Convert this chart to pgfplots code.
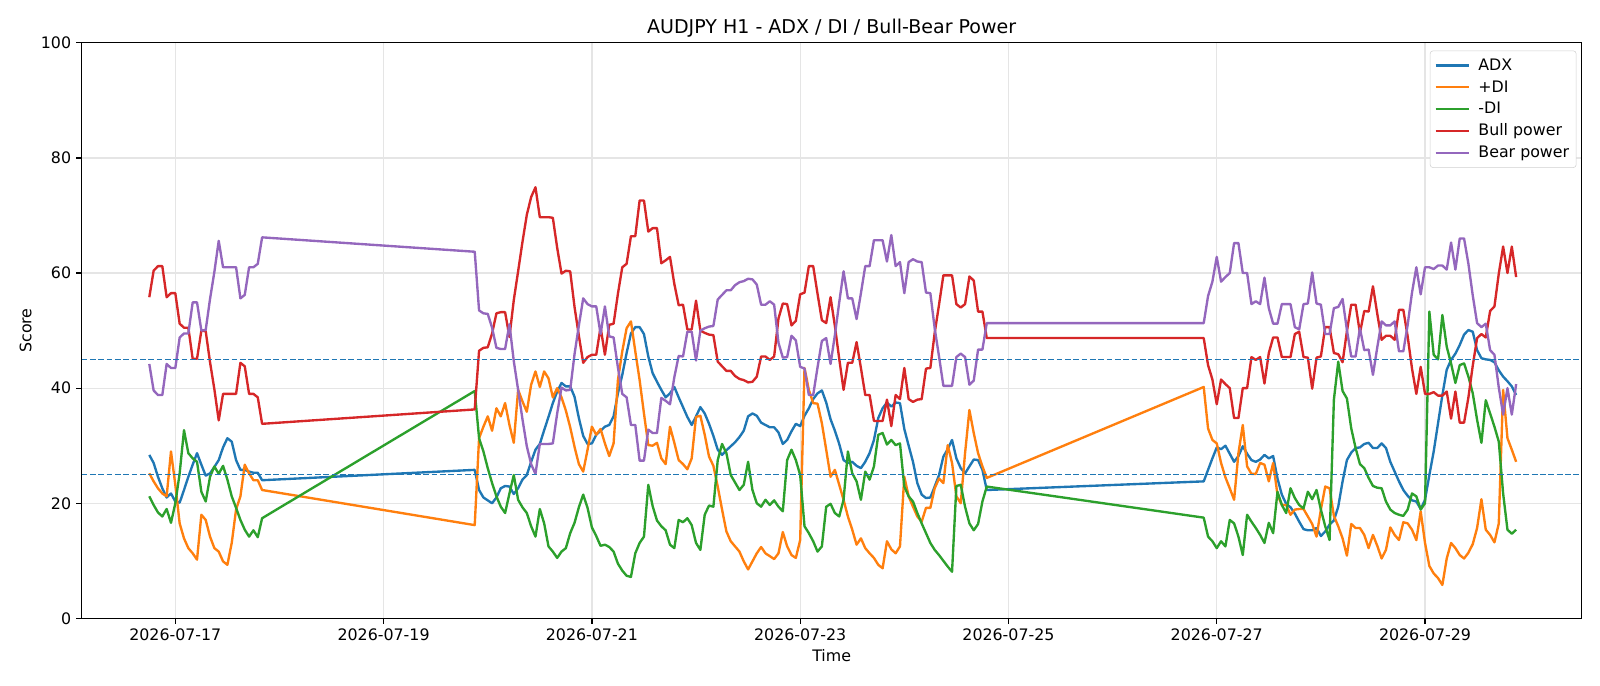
\documentclass[border=0pt]{standalone}
\usepackage{fontspec}
\setmainfont{DejaVu Sans}
\usepackage{pgfplots}
\usepackage{pgfplotstable}
\pgfplotsset{compat=1.18}
\definecolor{c0}{HTML}{1F77B4}
\definecolor{c1}{HTML}{FF7F0E}
\definecolor{c2}{HTML}{2CA02C}
\definecolor{c3}{HTML}{D62728}
\definecolor{c4}{HTML}{9467BD}
\pgfplotstableread{
h adx pdi mdi bull bear
-6 28.4 25.2 21.2 55.8 44.2
-5 27.0 23.8 19.7 60.4 39.6
-4 24.6 22.6 18.4 61.2 38.8
-3 22.6 21.7 17.7 61.2 38.8
-2 21.0 21.2 19.0 55.8 44.2
-1 21.7 29.0 16.6 56.5 43.5
0 20.3 23.2 20.0 56.5 43.5
1 20.1 16.5 25.2 51.2 48.8
2 22.3 13.9 32.7 50.5 49.5
3 24.6 12.2 28.7 50.5 49.5
4 26.7 11.3 27.8 45.1 54.9
5 28.7 10.2 27.2 45.1 54.9
6 26.7 18.0 22.0 50.0 50.0
7 24.8 17.1 20.3 49.9 50.1
8 25.2 14.2 24.6 44.5 55.5
9 26.3 12.2 26.4 39.8 60.2
10 27.5 11.6 25.1 34.4 65.6
11 29.7 9.9 26.5 39.0 61.0
12 31.3 9.3 24.1 39.0 61.0
13 30.7 13.1 21.2 39.0 61.0
14 27.5 18.9 19.2 39.0 61.0
15 25.8 21.2 17.1 44.4 55.6
16 25.8 26.7 15.4 43.8 56.2
17 25.5 25.2 14.2 39.0 61.0
18 25.3 24.0 15.3 39.0 61.0
19 25.3 24.0 14.1 38.4 61.6
20 24.0 22.3 17.4 33.8 66.2
69 25.8 16.2 39.5 36.3 63.7
70 22.3 31.3 31.3 46.5 53.5
71 21.0 33.3 29.0 47.0 53.0
72 20.5 35.1 26.1 47.1 52.9
73 20.0 32.6 23.5 49.5 50.5
74 21.0 36.5 21.2 53.0 47.0
75 22.6 35.1 19.4 53.2 46.8
76 23.0 37.4 18.3 53.2 46.8
77 22.9 33.6 21.7 48.9 51.1
78 21.6 30.5 24.9 55.3 44.7
79 22.6 39.7 20.6 60.3 39.7
80 24.1 37.7 19.3 65.4 34.6
81 24.9 35.9 18.3 70.1 29.9
82 27.2 40.6 16.0 73.2 26.8
83 29.3 42.9 14.2 74.9 25.1
84 30.3 40.2 19.0 69.7 30.3
85 32.7 42.9 16.5 69.7 30.3
86 35.0 41.7 12.5 69.7 30.3
87 37.4 38.4 11.6 69.6 30.4
88 39.4 40.0 10.5 64.4 35.6
89 40.9 38.4 11.6 59.9 40.1
90 40.3 36.1 12.2 60.4 39.6
91 40.3 33.2 14.8 60.3 39.7
92 38.5 29.8 16.6 54.1 45.9
93 34.8 26.8 19.3 49.1 50.9
94 31.7 25.5 21.5 44.4 55.6
95 30.3 29.3 19.2 45.4 54.6
96 30.4 33.3 15.8 45.8 54.2
97 31.9 31.9 14.3 45.8 54.2
98 32.6 32.9 12.6 50.6 49.4
99 33.3 30.4 12.8 45.8 54.2
100 33.6 28.2 12.4 51.0 49.0
101 35.1 30.4 11.6 51.2 48.8
102 39.1 41.4 9.5 56.4 43.6
103 42.3 46.4 8.3 61.0 39.0
104 46.1 50.4 7.4 61.6 38.4
105 49.5 51.6 7.2 66.4 33.6
106 50.6 46.4 11.3 66.4 33.6
107 50.6 41.4 13.1 72.6 27.4
108 49.4 35.6 14.2 72.6 27.4
109 45.5 30.1 23.2 67.2 32.8
110 42.6 30.0 19.5 67.8 32.2
111 41.1 30.5 17.0 67.8 32.2
112 39.7 27.8 16.0 61.7 38.3
113 38.4 26.8 15.3 62.2 37.8
114 39.1 33.3 12.8 62.8 37.2
115 40.2 30.5 12.2 58.1 41.9
116 38.4 27.5 17.1 54.4 45.6
117 36.7 26.8 16.7 54.5 45.5
118 35.0 25.9 17.4 50.2 49.8
119 33.6 27.8 16.2 50.2 49.8
120 35.1 35.0 13.1 55.2 44.8
121 36.7 35.2 11.9 50.0 50.0
122 35.6 31.9 18.0 49.6 50.4
123 33.8 28.1 19.6 49.3 50.7
124 31.7 26.5 19.4 49.2 50.8
125 29.3 22.9 27.5 44.6 55.4
126 28.4 18.9 30.3 43.8 56.2
127 29.2 15.1 28.7 43.0 57.0
128 29.9 13.4 24.9 43.0 57.0
129 30.6 12.5 23.6 42.1 57.9
130 31.5 11.6 22.3 41.6 58.4
131 32.6 9.9 23.2 41.4 58.6
132 35.1 8.5 27.2 41.0 59.0
133 35.6 9.9 22.3 41.1 58.9
134 35.2 11.3 20.0 42.0 58.0
135 34.0 12.4 19.4 45.5 54.5
136 33.6 11.3 20.6 45.5 54.5
137 33.2 10.8 19.7 44.9 55.1
138 33.2 10.3 20.5 45.5 54.5
139 32.3 11.3 19.4 52.1 47.9
140 30.3 15.0 18.6 54.7 45.3
141 31.0 12.5 27.5 54.6 45.4
142 32.5 11.0 29.3 50.9 49.1
143 33.8 10.5 27.5 51.7 48.3
144 33.4 13.6 24.9 56.3 43.7
145 35.2 43.5 16.0 56.6 43.4
146 36.5 39.7 14.8 61.2 38.8
147 38.1 37.4 13.4 61.2 38.8
148 39.1 37.3 11.6 56.4 43.6
149 39.6 33.9 12.5 51.8 48.2
150 37.5 29.3 19.4 51.3 48.7
151 34.6 24.6 19.9 55.8 44.2
152 32.6 25.8 18.3 50.8 49.2
153 30.3 23.2 17.7 45.1 54.9
154 27.5 20.6 20.6 39.7 60.3
155 27.0 17.7 29.0 44.4 55.6
156 27.2 15.4 25.2 44.4 55.6
157 26.5 12.8 23.8 48.0 52.0
158 26.1 13.9 20.6 43.5 56.5
159 27.2 12.2 25.5 38.8 61.2
160 28.7 11.3 24.1 38.8 61.2
161 31.0 10.5 26.4 34.3 65.7
162 34.8 9.3 31.9 34.3 65.7
163 36.5 8.7 32.2 34.3 65.7
164 37.5 13.4 30.2 38.0 62.0
165 36.8 12.0 31.0 33.4 66.6
166 37.5 11.3 30.1 38.8 61.2
167 37.4 12.5 30.4 38.1 61.9
168 32.9 24.6 22.9 43.5 56.5
169 30.0 21.2 21.2 38.1 61.9
170 27.2 19.4 20.3 37.6 62.4
171 23.5 17.7 18.3 38.0 62.0
172 21.5 16.8 16.5 38.1 61.9
173 20.9 19.2 14.8 43.4 56.6
174 21.0 19.2 13.1 43.5 56.5
175 22.9 22.6 11.9 49.6 50.4
176 24.9 24.3 11.0 54.5 45.5
177 28.1 23.5 10.0 59.6 40.4
178 29.4 30.1 9.0 59.6 40.4
179 31.0 27.0 8.1 59.6 40.4
180 27.8 21.2 23.0 54.6 45.4
181 26.1 20.0 23.2 54.0 46.0
182 25.2 28.7 19.4 54.6 45.4
183 26.4 36.2 16.5 59.4 40.6
184 27.6 32.2 15.3 58.7 41.3
185 27.5 28.7 16.4 53.3 46.7
186 25.8 26.4 20.3 53.3 46.7
187 22.3 24.4 22.9 48.7 51.3
237 23.8 40.2 17.5 48.7 51.3
238 25.8 33.0 14.2 44.0 56.0
239 27.8 31.0 13.4 41.5 58.5
240 29.7 30.4 12.2 37.2 62.8
241 29.4 27.0 13.4 41.5 58.5
242 30.0 24.5 12.5 40.7 59.3
243 28.6 22.6 17.1 40.0 60.0
244 27.2 20.6 16.5 34.8 65.2
245 28.2 28.7 14.2 34.8 65.2
246 29.9 33.6 11.0 40.0 60.0
247 28.6 26.4 18.0 40.0 60.0
248 27.5 25.1 16.8 45.4 54.6
249 27.2 25.1 15.7 44.9 55.1
250 27.6 27.0 14.5 45.4 54.6
251 28.4 26.7 13.1 40.8 59.2
252 27.8 23.8 16.6 46.1 53.9
253 28.2 27.0 14.8 48.8 51.2
254 24.3 21.5 22.0 48.8 51.2
255 21.5 19.7 19.7 45.4 54.6
256 19.9 19.7 18.3 45.4 54.6
257 19.3 18.0 22.6 45.4 54.6
258 18.2 18.9 20.9 49.4 50.6
259 16.8 19.0 19.7 49.8 50.2
260 15.5 19.0 19.1 45.4 54.6
261 15.3 17.7 22.0 45.3 54.7
262 15.3 16.4 20.7 39.9 60.1
263 15.7 14.2 22.3 45.3 54.7
264 14.3 18.9 18.9 45.5 54.5
265 15.1 22.9 16.0 50.6 49.4
266 16.3 22.6 13.6 50.6 49.4
267 17.0 17.8 38.0 46.1 53.9
268 19.4 16.0 44.6 45.9 54.1
269 23.8 13.9 39.5 44.5 55.5
270 27.5 10.9 38.2 49.9 50.1
271 28.8 16.4 33.0 54.5 45.5
272 29.6 15.7 29.6 54.5 45.5
273 29.7 15.7 26.8 49.6 50.4
274 30.3 14.5 26.1 53.4 46.6
275 30.5 12.2 24.4 53.3 46.7
276 29.6 14.5 23.0 57.7 42.3
277 29.6 12.6 22.7 52.9 47.1
278 30.4 10.4 22.6 48.4 51.6
279 29.6 11.9 20.3 49.1 50.9
280 27.2 15.8 18.9 49.1 50.9
281 25.5 14.5 18.3 48.4 51.6
282 23.8 13.6 18.0 53.6 46.4
283 22.3 16.7 17.8 53.6 46.4
284 21.3 16.5 18.9 49.0 51.0
285 20.5 15.4 21.7 43.4 56.6
286 20.3 13.6 21.2 39.0 61.0
287 19.0 18.6 18.9 43.7 56.3
288 20.6 13.1 20.0 39.0 61.0
289 24.9 9.1 53.3 39.0 61.0
290 29.0 7.8 45.8 39.3 60.7
291 33.9 7.0 45.0 38.7 61.3
292 38.8 5.8 52.7 38.7 61.3
293 43.2 10.4 47.2 39.4 60.6
294 44.9 13.1 44.3 34.7 65.3
295 46.0 12.2 40.9 39.4 60.6
296 47.5 11.0 44.0 34.0 66.0
297 49.3 10.4 44.3 34.0 66.0
298 50.1 11.4 42.0 38.4 61.6
299 49.8 12.9 39.1 43.9 56.1
300 46.6 15.7 34.5 48.7 51.3
301 45.2 20.7 30.5 49.4 50.6
302 45.0 15.4 37.9 48.8 51.2
303 44.9 14.5 35.6 53.4 46.6
304 44.5 13.2 33.3 54.2 45.8
305 43.1 16.5 30.7 59.9 40.1
306 42.0 39.7 21.7 64.6 35.4
307 41.2 31.3 15.4 60.0 40.0
308 40.3 29.3 14.7 64.6 35.4
309 38.8 27.2 15.4 59.3 40.7
}\data
\begin{document}
\begin{tikzpicture}
\useasboundingbox (-58.75pt,-48.7pt) rectangle (1093.2pt,445.2pt);
\begin{axis}[
  at={(0,0)}, anchor=south west,
  width=1080pt, height=414.36pt, scale only axis,
  xmin=-21.6, xmax=324.1, ymin=0, ymax=100,
  xtick={0,48,96,144,192,240,288},
  xticklabels={2026-07-17,2026-07-19,2026-07-21,2026-07-23,2026-07-25,2026-07-27,2026-07-29},
  ytick={0,20,40,60,80,100},
  tick pos=left, tick align=outside, major tick length=4pt,
  every tick/.style={black, line width=0.9pt},
  axis line style={line width=0.9pt},
  grid=major, major grid style={line width=0.9pt, black!10},
  tick label style={font=\fontsize{11.4}{13}\selectfont},
  /pgf/number format/assume math mode=true,
  label style={font=\fontsize{11.4}{13}\selectfont},
  xlabel={Time}, ylabel={Score},
  xlabel style={at={(axis description cs:0.5,-0.0655)}, anchor=center},
  ylabel style={at={(axis description cs:-0.0374,0.5)}, anchor=center},
  title={AUDJPY H1 - ADX / DI / Bull-Bear Power},
  title style={at={(axis description cs:0.5,1.0108)}, anchor=center, font=\fontsize{13.7}{16}\selectfont},
  legend cell align=left,
  legend style={at={(0.9965,0.9865)}, anchor=north east, draw=black!18, rounded corners=2pt,
    font=\fontsize{11.4}{13}\selectfont, row sep=1.8pt, inner xsep=3pt, inner ysep=3.7pt},
  legend image code/.code={\draw[#1] (0pt,0pt) -- (24pt,0pt); \path (28pt,0pt);},
  every axis plot/.append style={line width=1.7pt, line join=round},
]
\addplot[c0] table[x=h,y=adx]{\data}; \addlegendentry{ADX}
\addplot[c1] table[x=h,y=pdi]{\data}; \addlegendentry{+DI}
\addplot[c2] table[x=h,y=mdi]{\data}; \addlegendentry{-DI}
\addplot[c3] table[x=h,y=bull]{\data}; \addlegendentry{Bull power}
\addplot[c4] table[x=h,y=bear]{\data}; \addlegendentry{Bear power}
\addplot[c0, line width=1.1pt, dash pattern=on 4.2pt off 1.8pt, forget plot] coordinates {(-21.6,25) (324.1,25)};
\addplot[c0, line width=1.1pt, dash pattern=on 4.2pt off 1.8pt, forget plot] coordinates {(-21.6,45) (324.1,45)};
\end{axis}
\end{tikzpicture}
\end{document}
